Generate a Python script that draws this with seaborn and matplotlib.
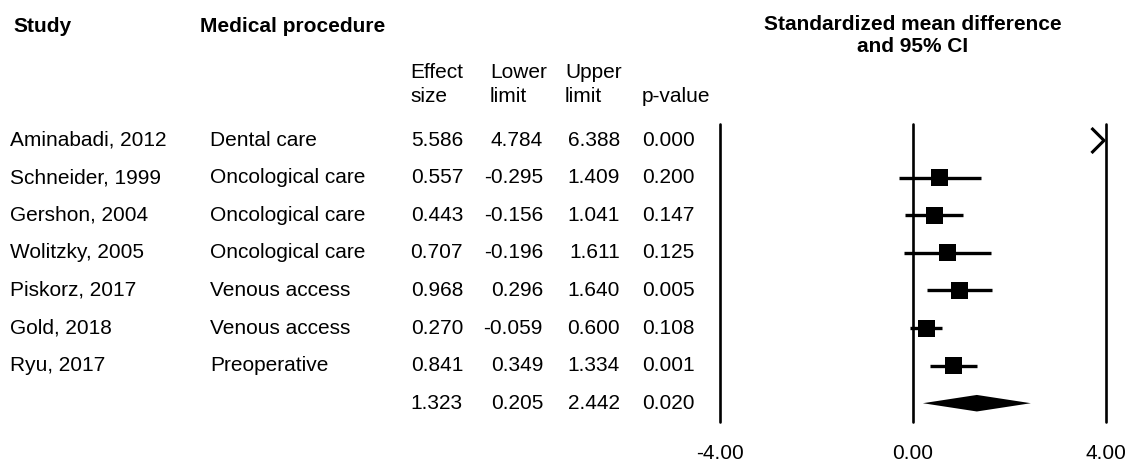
#forest plot of standardized mean differences by study
#table columns on the left, effect sizes with 95% CI on the right

#imports
import pandas as pd
import numpy as np
import matplotlib
matplotlib.use("Agg")
import matplotlib.pyplot as plt
import matplotlib.transforms as mtransforms
from matplotlib.path import Path
import seaborn as sns


#data
studies = [
    "Aminabadi, 2012",
    "Schneider, 1999",
    "Gershon, 2004",
    "Wolitzky, 2005",
    "Piskorz, 2017",
    "Gold, 2018",
    "Ryu, 2017",
]
procedures = [
    "Dental care",
    "Oncological care",
    "Oncological care",
    "Oncological care",
    "Venous access",
    "Venous access",
    "Preoperative",
]
effect = [5.586, 0.557, 0.443, 0.707, 0.968, 0.270, 0.841]
lower = [4.784, -0.295, -0.156, -0.196, 0.296, -0.059, 0.349]
upper = [6.388, 1.409, 1.041, 1.611, 1.640, 0.600, 1.334]
p_values = [0.000, 0.200, 0.147, 0.125, 0.005, 0.108, 0.001]

# pooled estimate (last row)
overall_effect = 1.323
overall_lower = 0.205
overall_upper = 2.442
overall_p = 0.020

tick_values = [-4.0, 0.0, 4.0]

df = pd.DataFrame({
    "study": studies,
    "procedure": procedures,
    "effect": effect,
    "lower": lower,
    "upper": upper,
    "p": p_values,
})
df["row"] = np.arange(len(df))
overall_row = len(df)

W, H = 1129, 466

sns.set_theme(style="white")
plt.rcParams["font.family"] = ["Liberation Sans", "DejaVu Sans"]
plt.rcParams["text.color"] = "black"
plt.rcParams["xtick.color"] = "black"
FS = 15

fig = plt.figure(figsize=(W / 100, H / 100), dpi=100)

# forest panel, x from -4 to 4
ax = fig.add_axes([720 / W, 1 - 422 / H, 386 / W, 298 / H])
xmin, xmax = tick_values[0], tick_values[-1]
ax.set_xlim(xmin, xmax)
ax.set_ylim(overall_row + 0.5, -0.43)
for s in ax.spines.values():
    s.set_visible(False)
ax.set_yticks([])
ax.set_xticks(tick_values)
ax.set_xticklabels([f"{v:.2f}" for v in tick_values], fontsize=FS)
ax.tick_params(axis="x", length=0, pad=16)

for v in tick_values:
    ax.axvline(v, color="black", lw=1.9, clip_on=False)

# confidence intervals
ax.hlines(df["row"], df["lower"], df["upper"], color="black", lw=2.4)

# squares for the point estimates that fit in range
inside = df[(df["effect"] >= xmin) & (df["effect"] <= xmax)]
sns.scatterplot(
    data=inside,
    x="effect",
    y="row",
    marker="s",
    s=150,
    color="black",
    edgecolor="none",
    legend=False,
    ax=ax,
)
ax.set_xlabel("")
ax.set_ylabel("")

# arrow where the estimate runs off the right edge
arrow = Path([(-1.2, 1), (-0.2, 0), (-1.2, -1)], [Path.MOVETO, Path.LINETO, Path.LINETO])
off = df[df["upper"] > xmax]
ax.plot(
    np.full(len(off), xmax),
    off["row"],
    linestyle="none",
    marker=arrow,
    markersize=21.6,
    markerfacecolor="none",
    markeredgecolor="black",
    markeredgewidth=2.2,
    clip_on=False,
)

# pooled diamond
h = 0.22
ax.fill(
    [overall_lower, overall_effect, overall_upper, overall_effect],
    [overall_row, overall_row - h, overall_row, overall_row + h],
    color="black",
    lw=0,
)

# table text: x in figure pixels, y in data rows
tr = mtransforms.blended_transform_factory(fig.transFigure, ax.transData)


def fx(px):
    return px / W


def fy(px):
    return 1 - px / H


for _, r in df.iterrows():
    y = r["row"]
    ax.text(fx(10), y, r["study"], transform=tr, fontsize=FS, va="center", ha="left")
    ax.text(fx(210), y, r["procedure"], transform=tr, fontsize=FS, va="center", ha="left")
    ax.text(fx(463), y, f"{r['effect']:.3f}", transform=tr, fontsize=FS, va="center", ha="right")
    ax.text(fx(543), y, f"{r['lower']:.3f}", transform=tr, fontsize=FS, va="center", ha="right")
    ax.text(fx(620), y, f"{r['upper']:.3f}", transform=tr, fontsize=FS, va="center", ha="right")
    ax.text(fx(642), y, f"{r['p']:.3f}", transform=tr, fontsize=FS, va="center", ha="left")

y = overall_row
ax.text(fx(463), y, f"{overall_effect:.3f}", transform=tr, fontsize=FS, va="center", ha="right")
ax.text(fx(543), y, f"{overall_lower:.3f}", transform=tr, fontsize=FS, va="center", ha="right")
ax.text(fx(620), y, f"{overall_upper:.3f}", transform=tr, fontsize=FS, va="center", ha="right")
ax.text(fx(642), y, f"{overall_p:.3f}", transform=tr, fontsize=FS, va="center", ha="left")

#headers
fig.text(fx(13), fy(27), "Study", fontsize=FS, fontweight="bold", va="center")
fig.text(fx(200), fy(27), "Medical procedure", fontsize=FS, fontweight="bold", va="center")
fig.text(fx(913), fy(25), "Standardized mean difference", fontsize=FS,
         fontweight="bold", va="center", ha="center")
fig.text(fx(913), fy(46), "and 95% CI", fontsize=FS, fontweight="bold",
         va="center", ha="center")

for left, top, bottom in [(410, "Effect", "size"), (490, "Lower", "limit"), (565, "Upper", "limit")]:
    fig.text(fx(left), fy(73), top, fontsize=FS, va="center")
    fig.text(fx(left), fy(97), bottom, fontsize=FS, va="center")
fig.text(fx(642), fy(97), "p-value", fontsize=FS, va="center")

fig.savefig("out.png", dpi=100)
